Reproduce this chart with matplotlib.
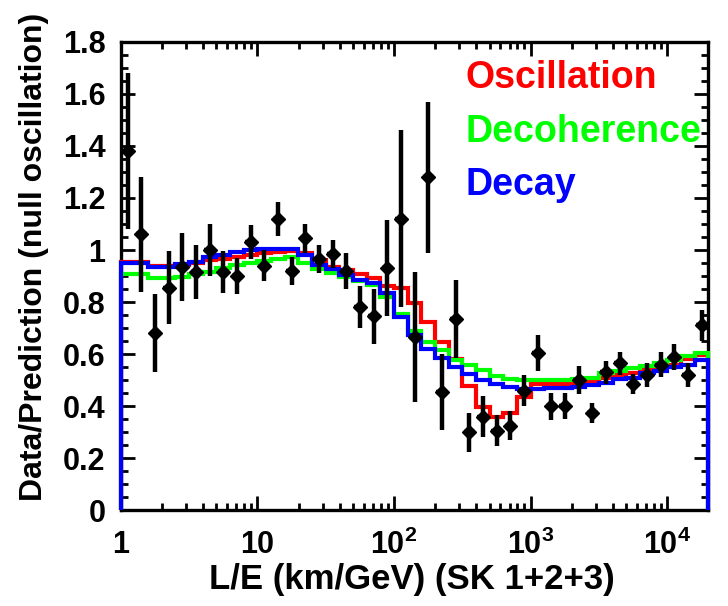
import numpy as np
import matplotlib
matplotlib.use("Agg")
import matplotlib.pyplot as plt
from matplotlib.ticker import FixedLocator, MultipleLocator, LogLocator, NullFormatter

plt.rcParams['font.family'] = ['Liberation Sans', 'DejaVu Sans']
plt.rcParams['font.weight'] = 'bold'
plt.rcParams['mathtext.fontset'] = 'custom'
plt.rcParams['mathtext.rm'] = 'Liberation Sans:bold'
plt.rcParams['mathtext.bf'] = 'Liberation Sans:bold'

# log10(L/E) binning, 43 bins of 0.1
log_edges = np.round(np.arange(0, 4.31, 0.1), 2)

# data / null-oscillation prediction per bin, with statistical errors
data_ratio = [1.38, 1.06, 0.68, 0.855, 0.935, 0.915, 1.00, 0.915, 0.90, 1.03,
              0.94, 1.12, 0.92, 1.045, 0.965, 0.985, 0.92, 0.78, 0.745, 0.93,
              1.12, 0.665, 1.28, 0.455, 0.735, 0.30, 0.36, 0.305, 0.325, 0.46,
              0.605, 0.40, 0.40, 0.50, 0.375, 0.53, 0.565, 0.485, 0.52, 0.56,
              0.59, 0.52, 0.71]
data_err = [0.30, 0.22, 0.15, 0.14, 0.13, 0.105, 0.10, 0.08, 0.07, 0.065,
            0.06, 0.065, 0.055, 0.055, 0.055, 0.055, 0.07, 0.08, 0.105, 0.185,
            0.34, 0.25, 0.29, 0.145, 0.15, 0.075, 0.08, 0.06, 0.055, 0.06,
            0.068, 0.052, 0.05, 0.055, 0.038, 0.043, 0.045, 0.04, 0.045, 0.048,
            0.05, 0.045, 0.06]

# best-fit expectations for each hypothesis
oscillation = [0.955, 0.955, 0.938, 0.938, 0.942, 0.949, 0.960, 0.966, 0.975, 0.982,
               0.988, 0.993, 0.995, 0.990, 0.962, 0.936, 0.923, 0.906, 0.891, 0.862,
               0.853, 0.795, 0.724, 0.647, 0.583, 0.478, 0.397, 0.358, 0.372, 0.436,
               0.485, 0.485, 0.485, 0.487, 0.497, 0.510, 0.519, 0.526, 0.538, 0.549,
               0.560, 0.580, 0.596]
decoherence = [0.906, 0.906, 0.891, 0.891, 0.897, 0.908, 0.917, 0.930, 0.942, 0.949,
               0.958, 0.965, 0.972, 0.949, 0.926, 0.910, 0.897, 0.882, 0.865, 0.820,
               0.756, 0.690, 0.647, 0.615, 0.577, 0.560, 0.538, 0.515, 0.506, 0.500,
               0.500, 0.500, 0.500, 0.505, 0.510, 0.526, 0.535, 0.545, 0.555, 0.564,
               0.578, 0.592, 0.605]
decay = [0.949, 0.949, 0.934, 0.934, 0.946, 0.955, 0.972, 0.980, 0.994, 1.000,
         1.004, 1.004, 1.004, 0.980, 0.942, 0.926, 0.904, 0.885, 0.872, 0.833,
         0.744, 0.672, 0.619, 0.586, 0.551, 0.523, 0.500, 0.485, 0.474, 0.466,
         0.465, 0.468, 0.468, 0.472, 0.480, 0.490, 0.503, 0.510, 0.526, 0.535,
         0.549, 0.560, 0.577]

model_names = ['Oscillation', 'Decoherence', 'Decay']
model_colors = ['#ff0000', '#00ff00', '#0000ff']

y_ticks = [0, 0.2, 0.4, 0.6, 0.8, 1.0, 1.2, 1.4, 1.6, 1.8]
y_ticklabels = ['0', '0.2', '0.4', '0.6', '0.8', '1', '1.2', '1.4', '1.6', '1.8']
x_ticks = [1, 10, 100, 1000, 10000]
x_ticklabels = ['1', '10', r'$\mathbf{10^{2}}$', r'$\mathbf{10^{3}}$', r'$\mathbf{10^{4}}$']

edges = 10 ** log_edges
log_centers = (log_edges[:-1] + log_edges[1:]) / 2
centers = 10 ** log_centers
half = 0.04
xerr = [centers - 10 ** (log_centers - half), 10 ** (log_centers + half) - centers]

fig = plt.figure(figsize=(7.28, 6.06), dpi=100)
ax = fig.add_axes([0.166, 0.158, 0.807, 0.773])

for vals, color, z in zip([oscillation, decoherence, decay], model_colors, [3, 3.1, 3.2]):
    ax.stairs(vals, edges, baseline=0, color=color, lw=3.0, zorder=z, clip_on=False)

ax.errorbar(centers, data_ratio, yerr=data_err, xerr=xerr, fmt='D', color='black',
            ms=7.5, elinewidth=3.2, capsize=0, zorder=5)

ax.set_xscale('log')
ax.set_xlim(edges[0], edges[-1])
ax.set_ylim(0, 1.8)

ax.xaxis.set_major_locator(FixedLocator(x_ticks))
ax.set_xticklabels(x_ticklabels)
ax.xaxis.set_minor_locator(LogLocator(base=10, subs=np.arange(2, 10)))
ax.xaxis.set_minor_formatter(NullFormatter())
ax.set_yticks(y_ticks)
ax.set_yticklabels(y_ticklabels)
ax.yaxis.set_minor_locator(MultipleLocator(0.05))

ax.tick_params(which='both', direction='in', top=True, right=True, width=2.0)
ax.tick_params(which='major', length=10, labelsize=22)
ax.tick_params(which='minor', length=5)
ax.tick_params(axis='x', which='major', pad=14)
ax.tick_params(axis='y', which='major', pad=11)
for sp in ax.spines.values():
    sp.set_linewidth(2.4)

ax.set_xlabel('L/E (km/GeV) (SK 1+2+3)', fontsize=25, fontweight='bold')
ax.xaxis.set_label_coords(0.496, -0.112)
ax.set_ylabel('Data/Prediction (null oscillation)', fontsize=23, fontweight='bold')
ax.yaxis.set_label_coords(-0.122, 0.54)

# hypothesis labels in their line colours
for name, color, yv in zip(model_names, model_colors, [1.66, 1.455, 1.25]):
    ax.text(0.586, yv, name, transform=ax.get_yaxis_transform(), color=color,
            fontsize=27, fontweight='bold', va='center', ha='left', clip_on=False)

fig.savefig('out.png', dpi=100)
